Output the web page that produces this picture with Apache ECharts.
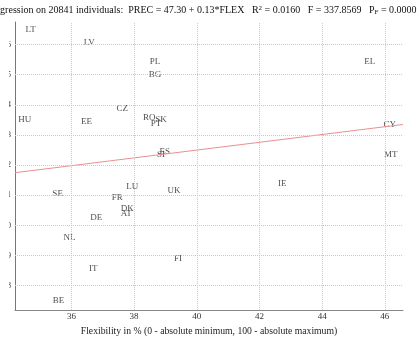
<!DOCTYPE html>
<html>
<head>
<meta charset="utf-8">
<script src="https://cdn.jsdelivr.net/npm/echarts@6/dist/echarts.min.js"></script>
<style>
html,body{margin:0;padding:0;background:#fff;overflow:hidden;}
#c{width:419px;height:341px;}
</style>
</head>
<body>
<div id="c"></div>
<script>
// Country labels with (flexibility, precariousness) positions
var countries = ['LT','LV','PL','BG','EL','HU','EE','CZ','RO','SK','PT','CY','ES','SI','MT','IE','SE','LU','UK','FR','DK','AT','DE','NL','FI','IT','BE'];
var flexValues = [34.70,36.57,38.67,38.67,45.52,34.51,36.48,37.62,38.48,38.86,38.70,46.16,38.98,38.86,46.19,42.73,35.56,37.94,39.27,37.46,37.78,37.75,36.79,35.94,39.40,36.70,35.59];
var precValues = [56.49,56.08,55.44,54.99,55.44,53.50,53.43,53.88,53.59,53.50,53.37,53.34,52.45,52.35,52.35,51.39,51.04,51.30,51.14,50.92,50.57,50.38,50.25,49.58,48.91,48.56,47.51];
// Regression line end points
var fitX = [34.2, 46.58];
var fitY = [51.75, 53.35];
// Tick labels
var xTicks = [36,38,40,42,44,46];
var yTicks = [48,49,50,51,52,53,54,55,56];

var serif = '"Liberation Serif","DejaVu Serif",serif';
var pts = countries.map(function(n,i){ return [flexValues[i], precValues[i], n]; });
var gridData = xTicks.map(function(v){return {xAxis:v};}).concat(yTicks.map(function(v){return {yAxis:v};}));

var chart = echarts.init(document.getElementById('c'), null, {renderer:'canvas'});
chart.setOption({
  animation:false,
  backgroundColor:'#fff',
  title:{
    text:'{n|Regression on 20841 individuals:  PREC = 47.30 + 0.13*FLEX   R}{sup|2}{n| = 0.0160   F = 337.8569   P}{sub|F}{n| = 0.0000}',
    left:-11, top:5, padding:0,
    textStyle:{
      fontFamily:serif, fontSize:10, color:'#111', fontWeight:'normal',
      rich:{
        n:{fontFamily:serif,fontSize:10,color:'#111'},
        sup:{fontFamily:serif,fontSize:7,color:'#111',verticalAlign:'top',padding:[0,0,4,0]},
        sub:{fontFamily:serif,fontSize:7,color:'#111',verticalAlign:'bottom',padding:[4,0,0,0]}
      }
    }
  },
  grid:{left:13,right:16,top:22,bottom:19,containLabel:false},
  xAxis:{
    type:'value', min:34.2, max:46.58,
    axisLine:{show:true,lineStyle:{color:'#888',width:1}},
    axisTick:{show:false},
    splitLine:{show:false},
    axisLabel:{customValues:xTicks, margin:2, fontFamily:serif, fontSize:9, color:'#333'},
    name:'Flexibility in % (0 - absolute minimum, 100 - absolute maximum)',
    nameLocation:'middle', nameGap:10,
    nameTextStyle:{fontFamily:serif,fontSize:9.7,color:'#222'}
  },
  yAxis:{
    type:'value', min:47.19, max:56.75,
    axisLine:{show:true,lineStyle:{color:'#777',width:1}},
    axisTick:{show:false},
    splitLine:{show:false},
    axisLabel:{customValues:yTicks, margin:4, fontFamily:serif, fontSize:8, color:'#333'}
  },
  graphic:[{type:'rect', z:100, left:0, top:20, shape:{x:0,y:0,width:9,height:306}, style:{fill:'#fff'}}],
  series:[
    {
      type:'scatter', data:pts, symbolSize:0, silent:true,
      label:{show:true, position:'inside', formatter:function(p){return p.data[2];},
        fontFamily:serif, fontSize:9, color:'#222'},
      markLine:{
        silent:true, symbol:['none','none'], animation:false,
        label:{show:false},
        lineStyle:{type:'dotted', color:'#c8c8c8', width:1},
        emphasis:{disabled:true},
        data:gridData
      }
    },
    {
      type:'line', data:[[fitX[0],fitY[0]],[fitX[1],fitY[1]]], showSymbol:false, silent:true,
      lineStyle:{color:'#e89090', width:1}
    }
  ]
});
</script>
</body>
</html>
